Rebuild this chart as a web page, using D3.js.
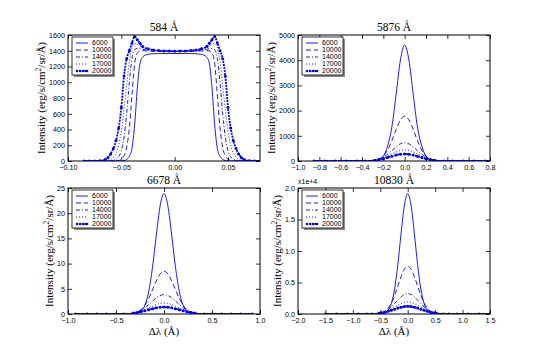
<!DOCTYPE html>
<html>
<head>
<meta charset="utf-8">
<script src="https://cdn.jsdelivr.net/npm/d3@7"></script>
<style>
  body { margin: 0; background: #fff; }
</style>
</head>
<body>
<div id="chart"></div>
<script>
// Data
const temps = ["6000", "10000", "14000", "17000", "20000"];

// 584 A
const dl584 = [-0.085, -0.08, -0.075, -0.07, -0.065, -0.0625, -0.06, -0.0575, -0.055, -0.0525, -0.05, -0.0475, -0.045, -0.0425, -0.04, -0.0375, -0.035, -0.0325, -0.03, -0.025, -0.02, -0.015, -0.01, -0.005, 0, 0.005, 0.01, 0.015, 0.02, 0.025, 0.03, 0.0325, 0.035, 0.0375, 0.04, 0.0425, 0.045, 0.0475, 0.05, 0.0525, 0.055, 0.0575, 0.06, 0.0625, 0.065, 0.07, 0.075, 0.08, 0.085];
const i584 = [
    [0, 0, 0, 0, 0, 0, 0, 0, 0, 0, 1, 6, 20, 60, 160, 460, 930, 1240, 1320, 1355, 1362, 1364, 1365, 1365, 1365, 1365, 1365, 1364, 1362, 1355, 1320, 1240, 930, 460, 160, 60, 20, 6, 1, 0, 0, 0, 0, 0, 0, 0, 0, 0, 0],
    [0, 0, 0, 0, 0, 0, 0, 0, 2, 7, 22, 65, 170, 420, 840, 1240, 1370, 1398, 1400, 1397, 1394, 1392, 1391, 1390, 1390, 1390, 1391, 1392, 1394, 1397, 1400, 1398, 1370, 1240, 840, 420, 170, 65, 22, 7, 2, 0, 0, 0, 0, 0, 0, 0, 0],
    [0, 0, 0, 0, 0, 1, 3, 8, 22, 55, 130, 300, 600, 1000, 1300, 1415, 1430, 1425, 1418, 1408, 1402, 1398, 1396, 1395, 1395, 1395, 1396, 1398, 1402, 1408, 1418, 1425, 1430, 1415, 1300, 1000, 600, 300, 130, 55, 22, 8, 3, 1, 0, 0, 0, 0, 0],
    [0, 0, 0, 1, 3, 8, 20, 45, 100, 200, 380, 650, 960, 1260, 1440, 1490, 1480, 1460, 1442, 1422, 1410, 1403, 1400, 1398, 1398, 1398, 1400, 1403, 1410, 1422, 1442, 1460, 1480, 1490, 1440, 1260, 960, 650, 380, 200, 100, 45, 20, 8, 3, 1, 0, 0, 0],
    [0, 0, 1, 4, 20, 45, 90, 160, 260, 420, 680, 1080, 1300, 1400, 1500, 1580, 1540, 1495, 1455, 1425, 1410, 1402, 1398, 1396, 1395, 1396, 1398, 1402, 1410, 1425, 1455, 1495, 1540, 1580, 1500, 1400, 1300, 1080, 680, 420, 260, 160, 90, 45, 20, 4, 1, 0, 0]
];
const ticksX584 = [-0.10, -0.05, 0.00, 0.05];
const ticksY584 = [0, 200, 400, 600, 800, 1000, 1200, 1400, 1600];

// 5876 A
const dl5876 = [-0.85, -0.75, -0.65, -0.55, -0.45, -0.37, -0.3, -0.28, -0.24, -0.2, -0.16, -0.12, -0.08, -0.04, 0, 0.04, 0.08, 0.12, 0.16, 0.2, 0.24, 0.28, 0.3, 0.37, 0.45, 0.55, 0.65, 0.75, 0.85];
const i5876 = [
    [0, 0, 0, 0, 0, 0, 0, 8, 45, 190, 600, 1350, 2650, 4000, 4600, 4000, 2650, 1350, 600, 190, 45, 8, 0, 0, 0, 0, 0, 0, 0],
    [0, 0, 0, 0, 0, 0, 0, 24, 76, 198, 437, 808, 1253, 1630, 1780, 1630, 1253, 808, 437, 198, 76, 24, 0, 0, 0, 0, 0, 0, 0],
    [0, 0, 0, 0, 0, 0, 0, 34, 76, 151, 266, 412, 564, 681, 725, 681, 564, 412, 266, 151, 76, 34, 0, 0, 0, 0, 0, 0, 0],
    [0, 0, 0, 0, 0, 0, 0, 36, 70, 122, 194, 278, 359, 418, 440, 418, 359, 278, 194, 122, 70, 36, 0, 0, 0, 0, 0, 0, 0],
    [0, 0, 0, 0, 0, 0, 0, 33, 58, 93, 139, 189, 235, 268, 280, 268, 235, 189, 139, 93, 58, 33, 0, 0, 0, 0, 0, 0, 0]
];
const ticksX5876 = [-1.0, -0.8, -0.6, -0.4, -0.2, 0.0, 0.2, 0.4, 0.6, 0.8];
const ticksY5876 = [0, 1000, 2000, 3000, 4000, 5000];

// 6678 A
const dl6678 = [-0.92, -0.8, -0.7, -0.6, -0.5, -0.42, -0.34, -0.32, -0.28, -0.24, -0.2, -0.16, -0.12, -0.08, -0.04, 0, 0.04, 0.08, 0.12, 0.16, 0.2, 0.24, 0.28, 0.32, 0.34, 0.42, 0.5, 0.6, 0.7, 0.8, 0.92];
const i6678 = [
    [0, 0, 0, 0, 0, 0, 0, 0.03, 0.13, 0.53, 1.70, 4.4, 9.23, 15.66, 21.5, 23.9, 21.5, 15.66, 9.23, 4.4, 1.70, 0.53, 0.13, 0.03, 0, 0, 0, 0, 0, 0, 0],
    [0, 0, 0, 0, 0, 0, 0, 0.15, 0.38, 0.86, 1.73, 3.07, 4.79, 6.57, 7.95, 8.47, 7.95, 6.57, 4.79, 3.07, 1.73, 0.86, 0.38, 0.15, 0, 0, 0, 0, 0, 0, 0],
    [0, 0, 0, 0, 0, 0, 0, 0.21, 0.42, 0.75, 1.24, 1.86, 2.56, 3.2, 3.67, 3.84, 3.67, 3.2, 2.56, 1.86, 1.24, 0.75, 0.42, 0.21, 0, 0, 0, 0, 0, 0, 0],
    [0, 0, 0, 0, 0, 0, 0, 0.2, 0.35, 0.57, 0.86, 1.2, 1.56, 1.88, 2.1, 2.18, 2.1, 1.88, 1.56, 1.2, 0.86, 0.57, 0.35, 0.2, 0, 0, 0, 0, 0, 0, 0],
    [0, 0, 0, 0, 0, 0, 0, 0.18, 0.29, 0.44, 0.63, 0.84, 1.05, 1.22, 1.35, 1.39, 1.35, 1.22, 1.05, 0.84, 0.63, 0.44, 0.29, 0.18, 0, 0, 0, 0, 0, 0, 0]
];
const ticksX6678 = [-1.0, -0.5, 0.0, 0.5, 1.0];
const ticksY6678 = [0, 5, 10, 15, 20, 25];

// 10830 A
const dl10830 = [-1.5, -1.3, -1.1, -0.9, -0.75, -0.65, -0.55, -0.52, -0.48, -0.42, -0.36, -0.3, -0.24, -0.18, -0.12, -0.06, 0, 0.06, 0.12, 0.18, 0.24, 0.3, 0.36, 0.42, 0.48, 0.52, 0.55, 0.65, 0.75, 0.9, 1.1, 1.3, 1.5];
const i10830 = [
    [0, 0, 0, 0, 0, 0, 0, 11, 34, 151, 545, 1620, 3935, 7850, 12870, 17300, 19100, 17300, 12870, 7850, 3935, 1620, 545, 151, 34, 11, 0, 0, 0, 0, 0, 0, 0],
    [0, 0, 0, 0, 0, 0, 0, 88, 171, 415, 897, 1720, 2930, 4440, 5970, 7130, 7570, 7130, 5970, 4440, 2930, 1720, 897, 415, 171, 88, 0, 0, 0, 0, 0, 0, 0],
    [0, 0, 0, 0, 0, 0, 0, 135, 215, 407, 705, 1122, 1642, 2207, 2727, 3096, 3230, 3096, 2727, 2207, 1642, 1122, 705, 407, 215, 135, 0, 0, 0, 0, 0, 0, 0],
    [0, 0, 0, 0, 0, 0, 0, 139, 204, 345, 542, 795, 1088, 1389, 1653, 1835, 1900, 1835, 1653, 1389, 1088, 795, 542, 345, 204, 139, 0, 0, 0, 0, 0, 0, 0],
    [0, 0, 0, 0, 0, 0, 0, 132, 183, 286, 420, 582, 759, 935, 1084, 1184, 1220, 1184, 1084, 935, 759, 582, 420, 286, 183, 132, 0, 0, 0, 0, 0, 0, 0]
];
const ticksX10830 = [-2.0, -1.5, -1.0, -0.5, 0.0, 0.5, 1.0, 1.5];
const ticksY10830 = [0, 5000, 10000, 15000, 20000];

// Layout
const W = 192, H = 126;
const colLeft = [68, 298];
const rowTop = [35, 188];
const serif = "'Liberation Serif', serif";
const sans = "'Liberation Sans', sans-serif";
const blue = "#0000ff";

const styles = [
    { dash: null, width: 0.9 },
    { dash: "5,3", width: 0.9 },
    { dash: "4,2,1,2", width: 0.9 },
    { dash: "1,2", width: 0.9 },
    { dash: "2,1", width: 1.8, marker: true }
];

const panels = [
    { title: "584 Å", x: dl584, ys: i584, xDomain: [-0.10, 0.08], yDomain: [0, 1600],
      xTicks: ticksX584, yTicks: ticksY584, xFmt: d3.format(".2f"), yFmt: d3.format("d"),
      col: 0, row: 0, labelX: 41, xlabel: false },
    { title: "5876 Å", x: dl5876, ys: i5876, xDomain: [-1.0, 0.8], yDomain: [0, 5000],
      xTicks: ticksX5876, yTicks: ticksY5876, xFmt: d3.format(".1f"), yFmt: d3.format("d"),
      col: 1, row: 0, labelX: 271, xlabel: false },
    { title: "6678 Å", x: dl6678, ys: i6678, xDomain: [-1.0, 1.0], yDomain: [0, 25],
      xTicks: ticksX6678, yTicks: ticksY6678, xFmt: d3.format(".1f"), yFmt: d3.format("d"),
      col: 0, row: 1, labelX: 49, xlabel: true },
    { title: "10830 Å", x: dl10830, ys: i10830, xDomain: [-2.0, 1.5], yDomain: [0, 20000],
      xTicks: ticksX10830, yTicks: ticksY10830, xFmt: d3.format(".1f"), yFmt: v => d3.format(".1f")(v / 1e4),
      col: 1, row: 1, labelX: 277, xlabel: true, offset: "x1e+4" }
];

const svg = d3.select("#chart")
    .append("svg")
    .attr("width", 545)
    .attr("height", 350)
    .style("display", "block");

svg.append("rect").attr("width", 545).attr("height", 350).attr("fill", "#fff");

panels.forEach((p, pi) => {
    const left = colLeft[p.col], top = rowTop[p.row];
    const g = svg.append("g").attr("transform", `translate(${left},${top})`);

    const x = d3.scaleLinear().domain(p.xDomain).range([0, W]);
    const y = d3.scaleLinear().domain(p.yDomain).range([H, 0]);

    g.append("clipPath").attr("id", "clip" + pi)
        .append("rect").attr("width", W).attr("height", H);

    const plot = g.append("g").attr("clip-path", `url(#clip${pi})`);

    const line = d3.line()
        .x((d, i) => x(p.x[i]))
        .y(d => y(d))
        .curve(d3.curveMonotoneX);

    p.ys.forEach((vals, si) => {
        const st = styles[si];
        plot.append("path")
            .attr("d", line(vals))
            .attr("fill", "none")
            .attr("stroke", blue)
            .attr("stroke-width", st.width)
            .attr("stroke-dasharray", st.dash);
        if (st.marker) {
            plot.selectAll(null)
                .data(vals)
                .enter().append("circle")
                .attr("cx", (d, i) => x(p.x[i]))
                .attr("cy", d => y(d))
                .attr("r", 1.5)
                .attr("fill", blue);
        }
    });

    // axes, ticks inward on all four sides
    g.append("g").attr("transform", `translate(0,${H})`)
        .call(d3.axisBottom(x).tickValues(p.xTicks).tickFormat(p.xFmt).tickSizeInner(-4).tickSizeOuter(0).tickPadding(4));
    g.append("g")
        .call(d3.axisLeft(y).tickValues(p.yTicks).tickFormat(p.yFmt).tickSizeInner(-4).tickSizeOuter(0).tickPadding(3));
    g.append("g")
        .call(d3.axisTop(x).tickValues(p.xTicks).tickFormat("").tickSizeInner(-4).tickSizeOuter(0));
    g.append("g").attr("transform", `translate(${W},0)`)
        .call(d3.axisRight(y).tickValues(p.yTicks).tickFormat("").tickSizeInner(-4).tickSizeOuter(0));

    g.selectAll(".domain").remove();
    g.selectAll(".tick line").attr("stroke", "#000").attr("stroke-width", 0.8);
    g.selectAll(".tick text")
        .attr("font-family", sans)
        .attr("font-size", 7.2)
        .attr("fill", "#000");

    g.append("rect")
        .attr("width", W).attr("height", H)
        .attr("fill", "none")
        .attr("stroke", "#000")
        .attr("stroke-width", 1);

    // title
    g.append("text")
        .attr("x", W / 2).attr("y", -4)
        .attr("text-anchor", "middle")
        .attr("font-family", serif)
        .attr("font-size", 11.5)
        .text(p.title);

    // y label
    const yl = svg.append("text")
        .attr("transform", `translate(${p.labelX},${top + H / 2}) rotate(-90)`)
        .attr("text-anchor", "middle")
        .attr("dy", "0.35em")
        .attr("font-family", serif)
        .attr("font-size", 11);
    yl.append("tspan").text("Intensity (erg/s/cm");
    yl.append("tspan").attr("baseline-shift", "super").attr("font-size", 7.5).text("2");
    yl.append("tspan").text("/sr/Å)");

    if (p.xlabel) {
        g.append("text")
            .attr("x", W / 2).attr("y", H + 21)
            .attr("text-anchor", "middle")
            .attr("font-family", serif)
            .attr("font-size", 11)
            .text("Δλ (Å)");
    }

    if (p.offset) {
        g.append("text")
            .attr("x", 0).attr("y", -4)
            .attr("font-family", sans)
            .attr("font-size", 7)
            .text(p.offset);
    }

    // legend with shadow
    const lg = g.append("g").attr("transform", "translate(4,2)");
    const lw = 41, lh = 38;
    lg.append("rect").attr("x", 2).attr("y", 2).attr("width", lw).attr("height", lh).attr("fill", "#8c8c8c");
    lg.append("rect").attr("width", lw).attr("height", lh)
        .attr("fill", "#fff").attr("stroke", "#000").attr("stroke-width", 0.8);

    const rows = lg.selectAll(".legend")
        .data(temps)
        .enter().append("g")
        .attr("class", "legend")
        .attr("transform", (d, i) => `translate(0,${6 + i * 7})`);

    rows.append("line")
        .attr("x1", 4).attr("x2", 16)
        .attr("stroke", blue)
        .attr("stroke-width", (d, i) => styles[i].width)
        .attr("stroke-dasharray", (d, i) => styles[i].dash);

    rows.filter((d, i) => styles[i].marker)
        .selectAll("circle")
        .data([5, 8.3, 11.6, 15])
        .enter().append("circle")
        .attr("cx", d => d).attr("cy", 0).attr("r", 1.3).attr("fill", blue);

    rows.append("text")
        .attr("x", 20)
        .attr("dy", "0.35em")
        .attr("font-family", sans)
        .attr("font-size", 7)
        .text(d => d);
});
</script>
</body>
</html>
